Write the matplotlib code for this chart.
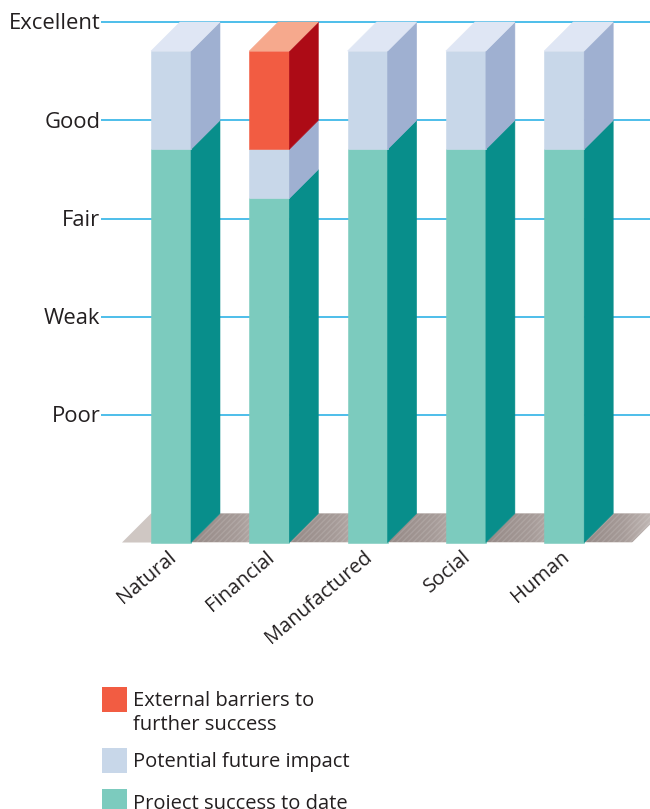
import matplotlib
matplotlib.use('Agg')
import matplotlib.pyplot as plt
from matplotlib.patches import Polygon, Rectangle
from matplotlib.colors import LinearSegmentedColormap
import numpy as np

plt.rcParams['font.family'] = ['Open Sans', 'DejaVu Sans']

# ---------------- data ----------------
categories = ['Natural', 'Financial', 'Manufactured', 'Social', 'Human']
success = [4.0, 3.5, 4.0, 4.0, 4.0]        # Project success to date
potential = [1.0, 0.5, 1.0, 1.0, 1.0]      # Potential future impact (stacked)
barriers = [0.0, 1.0, 0.0, 0.0, 0.0]       # External barriers to further success (stacked)
rating_levels = [1, 2, 3, 4, 5]
rating_labels = ['Poor', 'Weak', 'Fair', 'Good', 'Excellent']
legend_labels = ['External barriers to\nfurther success',
                 'Potential future impact',
                 'Project success to date']

# ---------------- style ----------------
TXT = '#231f20'
GRID = '#3fb9e8'
FLOOR = '#cfc7c3'
# (front, side, top) colours per series
styles = [
    ('#7ccbbe', '#088e8b', '#a9ddd5'),   # success
    ('#c8d7e9', '#9fb0d1', '#dfe6f4'),   # potential
    ('#f25c42', '#ad0b16', '#f6a98d'),   # barriers
]
legend_colors = ['#f25c42', '#c8d7e9', '#7ccbbe']

W, H = 650, 809
ppu = 98.3          # pixels per data unit (both axes)
cx0 = 171.0         # pixel x of first category centre (front face)
base_px = 513.5     # pixel y (from top) of rating 0 on back plane
hw = 20.0 / ppu     # half width of bar front face
d = 29.0 / ppu      # 3D depth offset

fig = plt.figure(figsize=(W / 100, H / 100), dpi=100)
ax = fig.add_axes([0, 0, 1, 1])
xlim = (-cx0 / ppu, (W - cx0) / ppu)
ylim = (-(H - base_px) / ppu, base_px / ppu)
ax.axis('off')

def px_x(p):
    return (p - cx0) / ppu

# gridlines & rating labels
ax.hlines(rating_levels, px_x(101), xlim[1], color=GRID, lw=1.3, zorder=1)
for lv, lab in zip(rating_levels, rating_labels):
    ax.text(px_x(100.5), lv - 7.3 / ppu, lab, ha='right', va='baseline',
            fontsize=15.8, color=TXT)

# floor
n = len(categories)
fl_left = -hw
fl_right_front = px_x(632)
floor = Polygon([(fl_left - d, -d), (fl_left, 0), (fl_right_front + d, 0),
                 (fl_right_front, -d)], closed=True, fc=FLOOR, ec='none', zorder=2)
ax.add_patch(floor)

# shadows behind bars on the floor
cmap = LinearSegmentedColormap.from_list('sh', ['#968a87', '#a69b98', '#c9c1be'])
grad = np.linspace(0, 1, 256).reshape(1, -1)
L = 0.64
for i in range(n):
    xl = i + hw
    Li = min(L, fl_right_front - xl)
    pts = [(xl, -d), (xl + d, 0), (xl + d + Li, 0), (xl + Li, -d)]
    poly = Polygon(pts, closed=True, fc='none', ec='none', zorder=2.1)
    ax.add_patch(poly)
    im = ax.imshow(grad, extent=[xl, xl + d + Li, -d, 0], cmap=cmap,
                   aspect='auto', zorder=2.1, interpolation='bilinear')
    im.set_clip_path(poly)
    ax.add_patch(Polygon(pts, closed=True, fc='none', ec=(1, 1, 1, 0.13), lw=0,
                         hatch='//////', zorder=2.2))

# bars
for i in range(n):
    segs = [success[i], potential[i], barriers[i]]
    bottom = 0.0
    x0 = i - hw
    x1 = i + hw
    top_style = None
    for val, (fc, sc, tc) in zip(segs, styles):
        if val <= 0:
            continue
        top = bottom + val
        ax.add_patch(Polygon([(x0, bottom - d), (x1, bottom - d), (x1, top - d), (x0, top - d)],
                             closed=True, fc=fc, ec=fc, lw=0.4, zorder=3))
        ax.add_patch(Polygon([(x1, bottom - d), (x1 + d, bottom), (x1 + d, top), (x1, top - d)],
                             closed=True, fc=sc, ec=sc, lw=0.4, zorder=3))
        top_style = tc
        bottom = top
    ax.add_patch(Polygon([(x0, bottom - d), (x0 + d, bottom), (x1 + d, bottom), (x1, bottom - d)],
                         closed=True, fc=top_style, ec=top_style, lw=0.4, zorder=3))

# category labels
for i, cat in enumerate(categories):
    ax.text(i - 4 / ppu, -(547 - base_px) / ppu, cat, rotation=40, rotation_mode='anchor',
            ha='right', va='top', fontsize=14.5, color=TXT)

ax.set_xlim(*xlim)
ax.set_ylim(*ylim)

# legend (manual)
sq = 25
tops = [687, 748, 789]
for lab, col, t in zip(legend_labels, legend_colors, tops):
    fig.add_artist(Rectangle((102 / W, 1 - (t + sq) / H), sq / W, sq / H,
                             transform=fig.transFigure, fc=col, ec='none'))
    for j, line in enumerate(lab.split('\n')):
        fig.text(133 / W, 1 - (t + 19.5 + j * 23.5) / H, line, ha='left',
                 va='baseline', fontsize=14.5, color=TXT)

fig.savefig('out.png', dpi=100)
